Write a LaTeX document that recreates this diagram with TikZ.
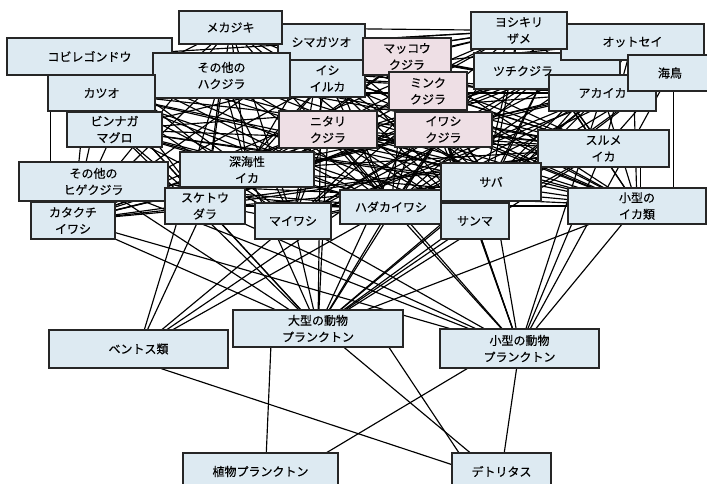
\documentclass[tikz,border=0pt]{standalone}
\usepackage{fontspec}
\setmainfont{Noto Sans CJK JP}[FakeBold=0.35]
\usetikzlibrary{backgrounds}
\definecolor{boxblue}{RGB}{221,234,242}
\definecolor{boxpink}{RGB}{238,223,229}
\begin{document}
\begin{tikzpicture}[x=1pt,y=-1pt,
  box/.style={draw=black!85, line width=1.1pt, fill=boxblue, inner sep=0pt, align=center,
    font=\fontsize{12}{16.5}\selectfont},
  pinkbox/.style={box, fill=boxpink},
  sz/.style 2 args={minimum width=#1pt, minimum height=#2pt},
  link/.style={line width=1.15pt, black}]
\useasboundingbox (0,0) rectangle (707,484);
% upper layer (back to front)
\node[box, sz={165}{37}] (kobire) at (89.5,56.5) {コビレゴンドウ};
\node[box, sz={87}{36}] (shimagatsuo) at (321.5,42) {シマガツオ};
\node[box, sz={103}{33}] (mekajiki) at (230.5,27.5) {メカジキ};
\node[box, sz={75}{37}] (ishiiruka) at (327.5,78.5) {イシ\\イルカ};
\node[box, sz={137}{45}] (hakujira) at (221.5,75.5) {その他の\\ハクジラ};
\node[box, sz={107}{36}] (katsuo) at (101.5,93) {カツオ};
\node[box, sz={95}{35}] (binnaga) at (114.5,129.5) {ビンナガ\\マグロ};
\node[box, sz={146}{36}] (tsuchi) at (547,71) {\makebox[98pt]{ツチクジラ}\makebox[48pt]{}};
\node[box, sz={143}{36}] (ottosei) at (632.5,42) {オットセイ};
\node[box, sz={107}{36}] (akaika) at (602.5,93) {アカイカ};
\node[box, sz={84}{36}] (umidori) at (670,73) {海鳥};
\node[pinkbox, sz={88}{37}] (makkou) at (407,56.5) {マッコウ\\クジラ};
\node[pinkbox, sz={78}{38}] (minku) at (428,91) {ミンク\\クジラ};
\node[pinkbox, sz={98}{37}] (nitari) at (328,129.5) {ニタリ\\クジラ};
\node[pinkbox, sz={97}{35}] (iwashikujira) at (443.5,129.5) {イワシ\\クジラ};
\node[box, sz={96}{37}] (yoshikiri) at (519,30.5) {ヨシキリ\\ザメ};
\node[box, sz={131}{37}] (surume) at (603.5,148.5) {スルメ\\イカ};
% middle layer
\node[box, sz={134}{35}] (shinkai) at (247,169.5) {深海性\\イカ};
\node[box, sz={149}{39}] (higekujira) at (93.5,181.5) {その他の\\ヒゲクジラ};
\node[box, sz={84}{37}] (katakuchi) at (73,220.5) {カタクチ\\イワシ};
\node[box, sz={80}{36}] (suketou) at (205,206) {スケトウ\\ダラ};
\node[box, sz={76}{36}] (maiwashi) at (293,221) {マイワシ};
\node[box, sz={102}{34}] (hadaka) at (391,207) {ハダカイワシ};
\node[box, sz={100}{38}] (saba) at (491,182) {サバ};
\node[box, sz={68}{36}] (sanma) at (475,221) {サンマ};
\node[box, sz={138}{36}] (kogataika) at (637,206) {小型の\\イカ類};
% lower layer
\node[box, sz={170}{37}] (ozoo) at (318,328.5) {大型の動物\\プランクトン};
\node[box, sz={179}{38}] (bentos) at (138.5,349) {ベントス類};
\node[box, sz={159}{39}] (kozoo) at (519.5,348.5) {小型の動物\\プランクトン};
\node[box, sz={155}{37}] (shokubutsu) at (260.5,471.5) {植物プランクトン};
\node[box, sz={99}{37}] (detritus) at (501.5,471.5) {デトリタス};

\begin{scope}[on background layer]
\foreach \a/\b in {
 kobire/akaika, kobire/surume, kobire/shinkai, kobire/kogataika, kobire/hadaka, kobire/saba, kobire/sanma, kobire/suketou, kobire/katakuchi, kobire/maiwashi,
 mekajiki/akaika, mekajiki/surume, mekajiki/saba, mekajiki/sanma, mekajiki/katakuchi, mekajiki/maiwashi, mekajiki/shinkai, mekajiki/kogataika, mekajiki/katsuo, mekajiki/hadaka, mekajiki/binnaga, mekajiki/suketou,
 shimagatsuo/hadaka, shimagatsuo/kogataika, shimagatsuo/shinkai, shimagatsuo/sanma, shimagatsuo/katakuchi, shimagatsuo/ozoo, shimagatsuo/surume, shimagatsuo/maiwashi, shimagatsuo/saba, shimagatsuo/akaika,
 hakujira/akaika, hakujira/surume, hakujira/shinkai, hakujira/kogataika, hakujira/hadaka, hakujira/suketou, hakujira/saba, hakujira/sanma, hakujira/maiwashi, hakujira/bentos, hakujira/katakuchi,
 ishiiruka/hadaka, ishiiruka/kogataika, ishiiruka/surume, ishiiruka/shinkai, ishiiruka/katakuchi, ishiiruka/sanma, ishiiruka/suketou, ishiiruka/akaika, ishiiruka/maiwashi, ishiiruka/saba,
 katsuo/katakuchi, katsuo/maiwashi, katsuo/sanma, katsuo/saba, katsuo/kogataika, katsuo/surume, katsuo/hadaka, katsuo/ozoo, katsuo/akaika, katsuo/shinkai, katsuo/suketou,
 binnaga/katakuchi, binnaga/maiwashi, binnaga/sanma, binnaga/saba, binnaga/kogataika, binnaga/akaika, binnaga/hadaka, binnaga/ozoo, binnaga/surume, binnaga/shinkai, binnaga/suketou,
 nitari/katakuchi, nitari/maiwashi, nitari/sanma, nitari/saba, nitari/ozoo, nitari/kozoo, nitari/hadaka, nitari/suketou, nitari/kogataika, nitari/surume,
 makkou/akaika, makkou/surume, makkou/shinkai, makkou/kogataika, makkou/suketou, makkou/hadaka, makkou/yoshikiri, makkou/sanma, makkou/saba,
 minku/katakuchi, minku/maiwashi, minku/sanma, minku/saba, minku/ozoo, minku/suketou, minku/kogataika, minku/kozoo, minku/hadaka, minku/surume,
 iwashikujira/katakuchi, iwashikujira/maiwashi, iwashikujira/sanma, iwashikujira/saba, iwashikujira/ozoo, iwashikujira/kozoo, iwashikujira/kogataika, iwashikujira/hadaka, iwashikujira/surume,
 yoshikiri/akaika, yoshikiri/surume, yoshikiri/saba, yoshikiri/sanma, yoshikiri/maiwashi, yoshikiri/katakuchi, yoshikiri/kogataika, yoshikiri/suketou, yoshikiri/hadaka, yoshikiri/katsuo, yoshikiri/binnaga, yoshikiri/shimagatsuo, yoshikiri/kobire, yoshikiri/hakujira, yoshikiri/shinkai, yoshikiri/mekajiki,
 tsuchi/akaika, tsuchi/surume, tsuchi/shinkai, tsuchi/kogataika, tsuchi/suketou, tsuchi/hadaka, tsuchi/saba, tsuchi/bentos, tsuchi/sanma, tsuchi/maiwashi,
 ottosei/akaika, ottosei/surume, ottosei/sanma, ottosei/maiwashi, ottosei/katakuchi, ottosei/kogataika, ottosei/hadaka, ottosei/suketou, ottosei/saba, ottosei/shinkai, ottosei/katsuo,
 umidori/katakuchi, umidori/sanma, umidori/hadaka, umidori/ozoo, umidori/maiwashi, umidori/kozoo, umidori/surume, umidori/akaika, umidori/saba,
 higekujira/ozoo, higekujira/kozoo, higekujira/katakuchi, higekujira/maiwashi, higekujira/sanma, higekujira/hadaka, higekujira/suketou, higekujira/kogataika,
 akaika/hadaka, akaika/katakuchi, akaika/sanma, akaika/kogataika, akaika/ozoo, akaika/maiwashi, akaika/saba, akaika/kozoo, akaika/shinkai,
 surume/katakuchi, surume/maiwashi, surume/hadaka, surume/ozoo, surume/sanma, surume/kozoo, surume/shinkai, surume/suketou,
 shinkai/hadaka, shinkai/kogataika, shinkai/ozoo,
 suketou/ozoo, suketou/kozoo, suketou/bentos, suketou/katakuchi, suketou/kogataika, suketou/hadaka,
 katakuchi/ozoo, katakuchi/kozoo,
 maiwashi/ozoo, maiwashi/kozoo, maiwashi/bentos,
 hadaka/ozoo, hadaka/kozoo, hadaka/bentos,
 saba/ozoo, saba/kozoo, saba/katakuchi, saba/maiwashi,
 sanma/ozoo, sanma/kozoo,
 kogataika/ozoo, kogataika/kozoo}
 \draw[link] (\a) -- (\b);
\draw[link] (umidori.-80) -- (umidori.-80 |- kogataika.north);
\draw[link] (surume.-27) -- (surume.-27 |- kogataika.north);
\draw[link] (katsuo.-160) -- (katsuo.-160 |- higekujira.north);
\draw[link] (bentos.-41.5) -- (detritus.172.5);
\draw[link] (ozoo.-158) -- (shokubutsu.73);
\draw[link] (ozoo.-36.5) -- (detritus.149.6);
\draw[link] (ozoo.-15.4) -- (detritus.156);
\draw[link] (kozoo.-159) -- (shokubutsu.16);
\draw[link] (kozoo) -- (detritus);
\end{scope}
\end{tikzpicture}
\end{document}
